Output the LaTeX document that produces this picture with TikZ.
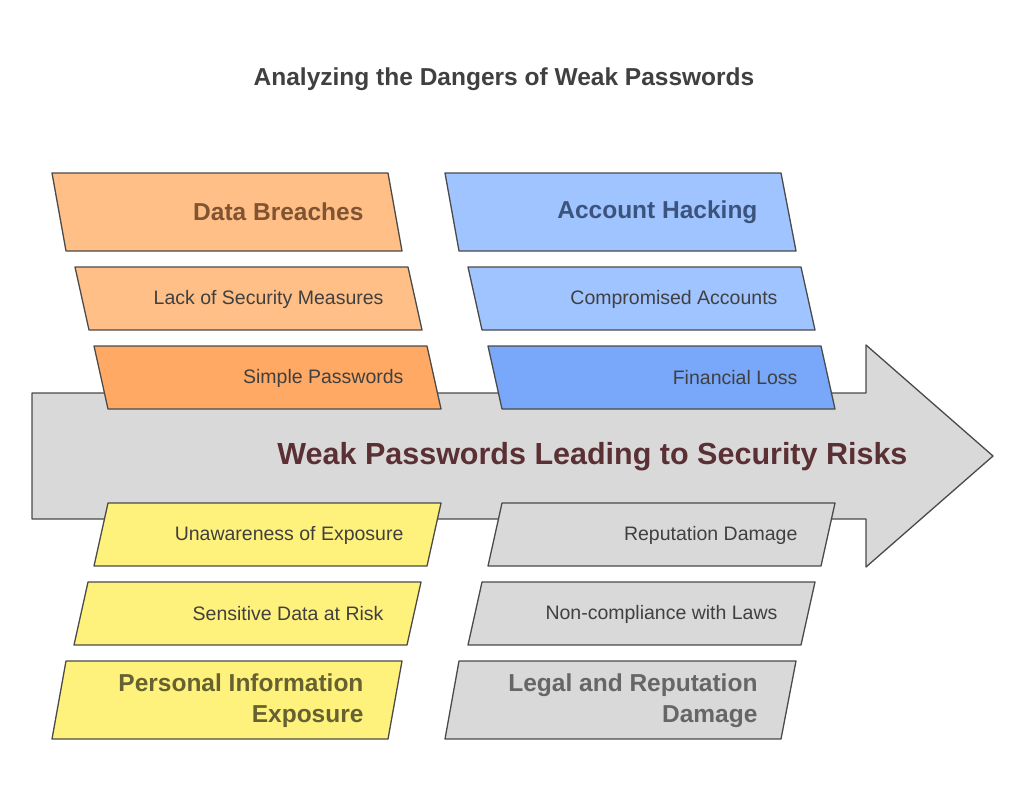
\documentclass[tikz,border=0pt]{standalone}
\usepackage{fontspec}
\setmainfont{Liberation Sans}
\usetikzlibrary{positioning}
\definecolor{lineC}{HTML}{4A4A4A}
\definecolor{orangeA}{HTML}{FFBF86}
\definecolor{orangeB}{HTML}{FFA964}
\definecolor{blueA}{HTML}{9FC4FF}
\definecolor{blueB}{HTML}{79A8FA}
\definecolor{yellowA}{HTML}{FFF27C}
\definecolor{greyA}{HTML}{D9D9D9}
\definecolor{mainT}{HTML}{5A3034}
\tikzset{
  box/.style={draw=lineC,line width=1.3pt,line join=round},
  item/.style={anchor=east,font=\fontsize{19.5}{22}\selectfont,text=black!75},
  head/.style={anchor=east,align=right,font=\fontsize{24.5}{31}\selectfont\bfseries},
}
% \topbox{x top-left}{y top}{height}{fill}: slant to the right going down
\newcommand\topbox[4]{\path[box,fill=#4] (#1,#2) -- ++(333,0) -- ++(14,#3) -- ++(-333,0) -- cycle;}
\newcommand\lowbox[4]{\path[box,fill=#4] (#1,#2) -- ++(333,0) -- ++(-14,#3) -- ++(-333,0) -- cycle;}
\begin{document}
\begin{tikzpicture}[x=1pt,y=-1pt]
\useasboundingbox[fill=white] (0,0) rectangle (1024,803);
\node[font=\fontsize{24.5}{28}\selectfont\bfseries,text=black!75] (title) at (504,79) {Analyzing the Dangers of Weak Passwords};
% main arrow
\path[box,fill=greyA] (32,393) -- (866,393) -- (866,345) -- (993,456) -- (866,567) -- (866,519) -- (32,519) -- cycle;
\node[anchor=east,font=\fontsize{30.5}{34}\selectfont\bfseries,text=mainT] (spine) at (911,457) {Weak Passwords Leading to Security Risks};
% upper causes
\path[box,fill=orangeA] (52,173) -- (388,173) -- (402,251) -- (66,251) -- cycle;
\node[head,text=orangeB!50!black] (breach) at (367,212) {Data Breaches};
\topbox{75}{267}{63}{orangeA}
\node[item] (lack) at (387,299) {Lack of Security Measures};
\topbox{94}{346}{63}{orangeB}
\node[item] (simple) at (407,378) {Simple Passwords};
\path[box,fill=blueA] (445,173) -- (781,173) -- (796,251) -- (459,251) -- cycle;
\node[head,text=blueB!50!black] (hack) at (761,212) {Account Hacking};
\topbox{468}{267}{63}{blueA}
\node[item] (comp) at (781,299) {Compromised Accounts};
\topbox{488}{346}{63}{blueB}
\node[item] (fin) at (801,378) {Financial Loss};
% lower causes
\lowbox{108}{503}{63}{yellowA}
\node[item] (unaware) at (407,535) {Unawareness of Exposure};
\lowbox{88}{582}{63}{yellowA}
\node[item] (sens) at (387,614) {Sensitive Data at Risk};
\path[box,fill=yellowA] (66,661) -- (402,661) -- (388,739) -- (52,739) -- cycle;
\node[head,text=yellowA!40!black] (personal) at (367,701) {Personal Information\\Exposure};
\lowbox{502}{503}{63}{greyA}
\node[item] (rep) at (801,535) {Reputation Damage};
\lowbox{482}{582}{63}{greyA}
\node[item] (noncomp) at (781,614) {Non-compliance with Laws};
\path[box,fill=greyA] (459,661) -- (796,661) -- (781,739) -- (445,739) -- cycle;
\node[head,text=black!60] (legal) at (761,701) {Legal and Reputation\\Damage};
\end{tikzpicture}
\end{document}
